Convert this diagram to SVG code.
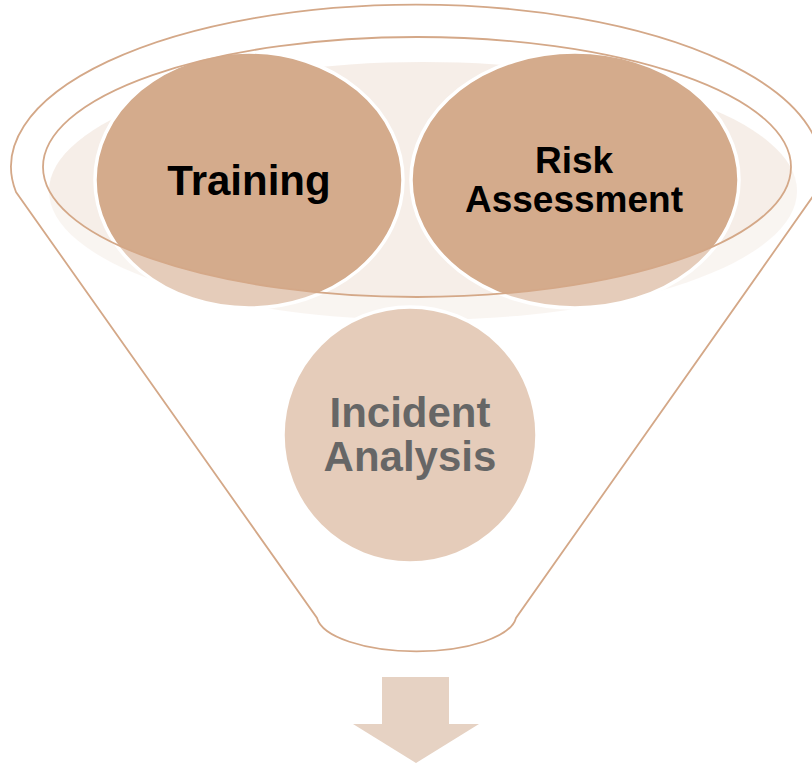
<svg xmlns="http://www.w3.org/2000/svg" width="812" height="765" viewBox="0 0 812 765">
<style>
.node{fill:#D4AB8C;stroke:#FFFFFF;stroke-width:3.5}
.lbl{font-family:"Liberation Sans",Arial,sans-serif;font-weight:bold;text-anchor:middle;fill:#000000}
.outline{fill:none;stroke:#D4A888;stroke-width:1.8}
</style>
<rect width="812" height="765" fill="#FFFFFF"/>
<g id="rim-fill">
<ellipse cx="423" cy="191" rx="374" ry="129" fill="#D4AB8C" fill-opacity="0.2"/>
</g>
<g id="node-training">
<ellipse class="node" cx="249" cy="180" rx="154" ry="128"/>
<text class="lbl" x="249" y="195" font-size="42">Training</text>
</g>
<g id="node-risk">
<ellipse class="node" cx="575" cy="180" rx="164" ry="128"/>
<text class="lbl" x="574" y="173" font-size="37">Risk</text>
<text class="lbl" x="574" y="212" font-size="37">Assessment</text>
</g>
<g id="node-incident">
<ellipse class="node" cx="410" cy="435" rx="127" ry="128"/>
<text class="lbl" x="410" y="427" font-size="42">Incident</text>
<text class="lbl" x="410" y="471" font-size="42">Analysis</text>
</g>
<g id="funnel">
<path fill="#FFFFFF" fill-opacity="0.4" fill-rule="evenodd" d="M16,192 A405,162 0 1 1 816,192 L516,618 A100,37 0 0 1 317,618 Z M43,167 A374,130 0 1 0 791,167 A374,130 0 1 0 43,167 Z"/>
<path class="outline" d="M16,192 A405,162 0 1 1 816,192 L516,618 A100,37 0 0 1 317,618 Z"/>
<ellipse class="outline" cx="417" cy="167" rx="374" ry="130"/>
</g>
<g id="connectors">
<path id="arrow" d="M382,677 H449 V724 H479 L416,763 L353,724 H382 Z" fill="#E6D2C3"/>
</g>
</svg>
